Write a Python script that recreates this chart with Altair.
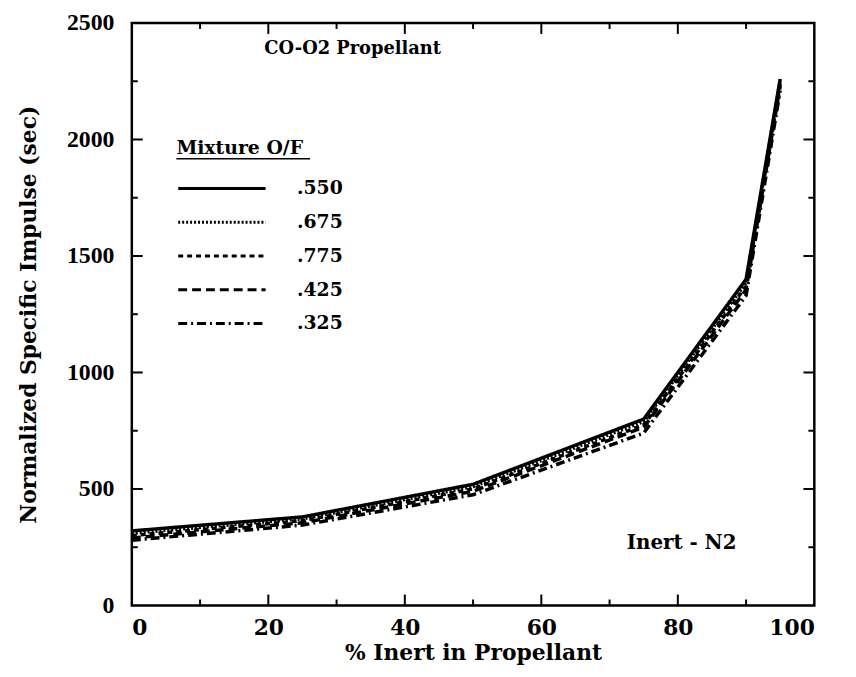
import altair as alt
import pandas as pd

# ---- data ----
pct_inert = [0, 25, 50, 75, 90, 95]
mixtures = [".550", ".675", ".775", ".425", ".325"]
isp_550 = [320, 380, 520, 800, 1400, 2260]
isp_675 = [310, 372, 510, 790, 1385, 2250]
isp_775 = [300, 364, 500, 775, 1370, 2240]
isp_425 = [290, 355, 490, 765, 1355, 2230]
isp_325 = [280, 345, 475, 740, 1330, 2210]
x_ticks = [0, 20, 40, 60, 80, 100]
y_ticks = [0, 500, 1000, 1500, 2000, 2500]

series = dict(zip(mixtures, [isp_550, isp_675, isp_775, isp_425, isp_325]))
rows = []
for m, vals in series.items():
    for x, v in zip(pct_inert, vals):
        rows.append({"pct": x, "isp": v, "mix": m})
df = pd.DataFrame(rows)

W, H = 689, 588
FONT = "Liberation Serif"
WIDE = "DejaVu Serif"
dash_range = [[1, 0], [2, 2], [5, 4], [9, 5], [9, 4, 2, 4]]
dash_scale = alt.Scale(domain=mixtures, range=dash_range)

xs = alt.Scale(domain=[0, 100], nice=False)
ys = alt.Scale(domain=[0, 2500], nice=False)

base_x = alt.X("pct:Q", scale=xs,
               axis=alt.Axis(values=x_ticks, title="% Inert in Propellant", format="d"))
base_y = alt.Y("isp:Q", scale=ys,
               axis=alt.Axis(values=y_ticks, title="Normalized Specific Impulse (sec)", format="d",
                             labelPadding=18, titlePadding=26))

lines = alt.Chart(df).mark_line(color="black", strokeWidth=3.5).encode(
    x=base_x, y=base_y,
    strokeDash=alt.StrokeDash("mix:N", scale=dash_scale, legend=None),
    detail="mix:N",
)

# ---- hand-drawn style legend (in data units) ----
leg_rows = []
leg_text = []
for i, m in enumerate(mixtures):
    yv = 1790 - i * 145
    leg_rows.append({"pct": 6.8, "isp": yv, "mix": m})
    leg_rows.append({"pct": 19.6, "isp": yv, "mix": m})
    leg_text.append({"pct": 24.2, "isp": yv, "mix": m})
leg_df = pd.DataFrame(leg_rows)
leg_txt_df = pd.DataFrame(leg_text)

leg_lines = alt.Chart(leg_df).mark_line(color="black", strokeWidth=3).encode(
    x=alt.X("pct:Q", scale=xs), y=alt.Y("isp:Q", scale=ys),
    strokeDash=alt.StrokeDash("mix:N", scale=dash_scale, legend=None),
    detail="mix:N",
)
leg_labels = alt.Chart(leg_txt_df).mark_text(
    align="left", baseline="middle", font=WIDE, fontWeight="bold", fontSize=19, color="black"
).encode(x=alt.X("pct:Q", scale=xs), y=alt.Y("isp:Q", scale=ys), text="mix:N")

one = pd.DataFrame({"a": [0]})
leg_title = alt.Chart(one).mark_text(
    align="left", baseline="middle", font=WIDE, fontWeight="bold", fontSize=19, color="black"
).encode(x=alt.value(45), y=alt.value(126), text=alt.value("Mixture O/F"))
leg_underline = alt.Chart(one).mark_rule(color="black", strokeWidth=1.5).encode(
    x=alt.value(45), x2=alt.value(180), y=alt.value(137))

title_txt = alt.Chart(one).mark_text(
    align="center", baseline="middle", font=WIDE, fontWeight="bold", fontSize=18, color="black"
).encode(x=alt.value(223), y=alt.value(26), text=alt.value("CO-O2  Propellant"))
inert_txt = alt.Chart(one).mark_text(
    align="center", baseline="middle", font=WIDE, fontWeight="bold", fontSize=20, color="black"
).encode(x=alt.value(555), y=alt.value(525), text=alt.value("Inert  -  N2"))

# ---- inward ticks on all four sides ----
tick_layers = []
xmaj = pd.DataFrame({"pct": [20, 40, 60, 80]})
xmin = pd.DataFrame({"pct": [10, 30, 50, 70, 90]})
ymaj = pd.DataFrame({"isp": [500, 1000, 1500, 2000]})
ymin = pd.DataFrame({"isp": [250, 750, 1250, 1750, 2250]})
for d, L in [(xmaj, 11), (xmin, 6)]:
    tick_layers.append(alt.Chart(d).mark_rule(color="black", strokeWidth=2).encode(
        x=alt.X("pct:Q", scale=xs), y=alt.value(H), y2=alt.value(H - L)))
    tick_layers.append(alt.Chart(d).mark_rule(color="black", strokeWidth=2).encode(
        x=alt.X("pct:Q", scale=xs), y=alt.value(0), y2=alt.value(L)))
for d, L in [(ymaj, 11), (ymin, 6)]:
    tick_layers.append(alt.Chart(d).mark_rule(color="black", strokeWidth=2).encode(
        y=alt.Y("isp:Q", scale=ys), x=alt.value(0), x2=alt.value(L)))
    tick_layers.append(alt.Chart(d).mark_rule(color="black", strokeWidth=2).encode(
        y=alt.Y("isp:Q", scale=ys), x=alt.value(W), x2=alt.value(W - L)))

chart = alt.layer(
    lines, leg_lines, leg_labels, leg_title, leg_underline, title_txt, inert_txt, *tick_layers
).properties(
    width=W, height=H,
    autosize=alt.AutoSizeParams(type="none"),
    padding={"left": 125, "top": 12, "right": 34, "bottom": 61},
    background="white",
).configure_view(
    stroke="black", strokeWidth=2.5
).configure_axis(
    domain=False, ticks=False, grid=False,
    labelFont=FONT, labelFontWeight="bold", labelFontSize=24, labelColor="black",
    titleFont=WIDE, titleFontWeight="bold", titleFontSize=22, titleColor="black",
).configure_axisX(
    labelFont=WIDE, labelFontSize=22, labelPadding=12, titlePadding=5
)

chart.save("out.html", embed_options={"renderer": "svg", "actions": False})
